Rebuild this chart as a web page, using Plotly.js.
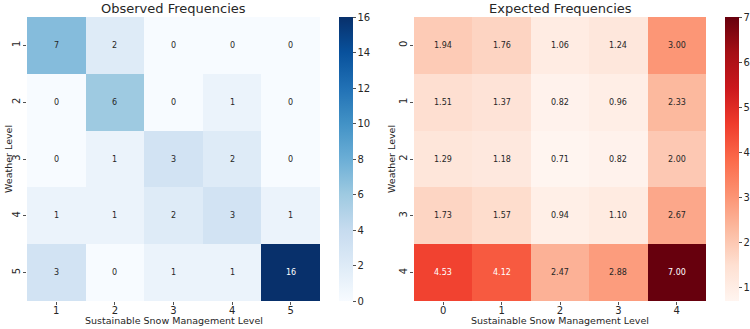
<!DOCTYPE html>
<html>
<head>
<meta charset="utf-8">
<script src="https://cdn.plot.ly/plotly-3.0.1.min.js"></script>
<style>html,body{margin:0;padding:0;background:#fff;}#chart{width:750px;height:329px;}</style>
</head>
<body>
<div id="chart"></div>
<script>
// ---- data ----
const obsX = ["1", "2", "3", "4", "5"];
const obsY = ["1", "2", "3", "4", "5"];
const observed = [
  [7, 2, 0, 0, 0],
  [0, 6, 0, 1, 0],
  [0, 1, 3, 2, 0],
  [1, 1, 2, 3, 1],
  [3, 0, 1, 1, 16]
];
const expX = ["0", "1", "2", "3", "4"];
const expY = ["0", "1", "2", "3", "4"];
const expected = [
  [1.94, 1.76, 1.06, 1.24, 3.00],
  [1.51, 1.37, 0.82, 0.96, 2.33],
  [1.29, 1.18, 0.71, 0.82, 2.00],
  [1.73, 1.57, 0.94, 1.10, 2.67],
  [4.53, 4.12, 2.47, 2.88, 7.00]
];
const titleLeft = "Observed Frequencies";
const titleRight = "Expected Frequencies";
const xLabel = "Sustainable Snow Management Level";
const yLabel = "Weather Level";

// ---- styling ----
const blues = [[0,"#f7fbff"],[0.125,"#deebf7"],[0.25,"#c6dbef"],[0.375,"#9ecae1"],[0.5,"#6baed6"],[0.625,"#4292c6"],[0.75,"#2171b5"],[0.875,"#08519c"],[1,"#08306b"]];
const reds = [[0,"#fff5f0"],[0.125,"#fee0d2"],[0.25,"#fcbba1"],[0.375,"#fc9272"],[0.5,"#fb6a4a"],[0.625,"#ef3b2c"],[0.75,"#cb181d"],[0.875,"#a50f15"],[1,"#67000d"]];
const FONT = "DejaVu Sans, sans-serif";
const TXT = "#262626";
const W = 750, H = 329;
const px = v => v / W;
const py = v => (H - v) / H;
const L1 = 27, R1 = 320, L2 = 414, R2 = 706, TOP = 17, BOT = 301;

function flat(m){ return [].concat(...m); }
const oMin = Math.min(...flat(observed)), oMax = Math.max(...flat(observed));
const eMin = Math.min(...flat(expected)), eMax = Math.max(...flat(expected));

const cbCommon = {
  thickness: 14, thicknessmode: "pixels",
  len: BOT - TOP, lenmode: "pixels",
  y: py(TOP), yanchor: "top", yref: "paper",
  xanchor: "left", xref: "paper",
  xpad: 0, ypad: 0,
  outlinewidth: 0,
  ticks: "outside", ticklen: 3, tickwidth: 0.8, tickcolor: TXT,
  tickfont: {family: FONT, size: 10, color: TXT}
};

const traces = [
  {
    type: "heatmap", x: obsX, y: obsY, z: observed,
    colorscale: blues, zmin: oMin, zmax: oMax,
    xaxis: "x", yaxis: "y", hoverinfo: "z",
    colorbar: Object.assign({}, cbCommon, {x: px(339), tickvals: [0,2,4,6,8,10,12,14,16]})
  },
  {
    type: "heatmap", x: expX, y: expY, z: expected,
    colorscale: reds, zmin: eMin, zmax: eMax,
    xaxis: "x2", yaxis: "y2", hoverinfo: "z",
    colorbar: Object.assign({}, cbCommon, {x: px(725), tickvals: [1,2,3,4,5,6,7]})
  }
];

const annotations = [];
function addCellText(xs, ys, z, zmin, zmax, xref, yref, fmt){
  for (let i = 0; i < ys.length; i++) {
    for (let j = 0; j < xs.length; j++) {
      const v = z[i][j];
      const t = (v - zmin) / (zmax - zmin);
      annotations.push({
        x: j, y: i, xref: xref, yref: yref,
        text: fmt(v), showarrow: false,
        font: {family: FONT, size: 8, color: t > 0.5 ? "#ffffff" : TXT}
      });
    }
  }
}
addCellText(obsX, obsY, observed, oMin, oMax, "x", "y", v => String(v));
addCellText(expX, expY, expected, eMin, eMax, "x2", "y2", v => v.toFixed(2));

function label(text, x, y, size, angle){
  annotations.push({text: text, x: x, y: y, xref: "paper", yref: "paper",
    xanchor: "center", yanchor: "middle", textangle: angle || 0, showarrow: false,
    font: {family: FONT, size: size, color: TXT}});
}
label(titleLeft, px((L1 + R1) / 2), py(9), 13);
label(titleRight, px((L2 + R2) / 2), py(9), 13);
label(xLabel, px((L1 + R1) / 2), py(320), 9.5);
label(xLabel, px((L2 + R2) / 2), py(320), 9.5);
label(yLabel, px(8), py((TOP + BOT) / 2), 9.5, -90);
label(yLabel, px(391), py((TOP + BOT) / 2), 9.5, -90);

function xAxis(domain, anchor){
  return {
    domain: domain, anchor: anchor, type: "category",
    range: [-0.5, 4.5], autorange: false,
    showgrid: false, zeroline: false, showline: false,
    ticks: "outside", ticklen: 3, tickwidth: 0.8, tickcolor: TXT,
    ticklabelstandoff: -3,
    tickfont: {family: FONT, size: 10, color: TXT},
    automargin: false, fixedrange: true
  };
}
function yAxis(anchor){
  return {
    domain: [py(BOT), py(TOP)], anchor: anchor, type: "category",
    range: [4.5, -0.5], autorange: false,
    showgrid: false, zeroline: false, showline: false,
    ticks: "outside", ticklen: 3, tickwidth: 0.8, tickcolor: TXT,
    tickangle: -90,
    ticklabelstandoff: -1,
    tickfont: {family: FONT, size: 10, color: TXT},
    automargin: false, fixedrange: true
  };
}

const layout = {
  width: W, height: H,
  margin: {l: 0, r: 0, t: 0, b: 0, autoexpand: false},
  paper_bgcolor: "#ffffff", plot_bgcolor: "#ffffff",
  font: {family: FONT, color: TXT},
  showlegend: false,
  xaxis: xAxis([px(L1), px(R1)], "y"),
  yaxis: yAxis("x"),
  xaxis2: xAxis([px(L2), px(R2)], "y2"),
  yaxis2: yAxis("x2"),
  annotations: annotations
};

Plotly.newPlot("chart", traces, layout, {displayModeBar: false, staticPlot: true});
</script>
</body>
</html>
